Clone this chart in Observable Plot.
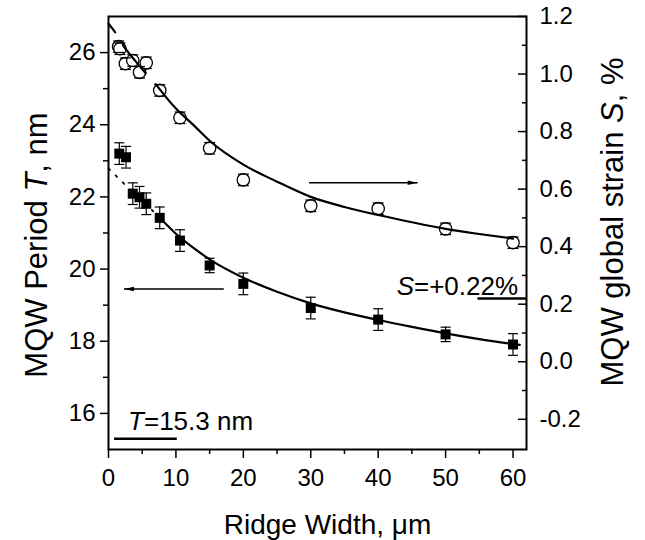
<!DOCTYPE html>
<html>
<head>
<meta charset="utf-8">
<script src="https://cdn.jsdelivr.net/npm/d3@7"></script>
<script src="https://cdn.jsdelivr.net/npm/@observablehq/plot@0.6"></script>
<style>
  html, body { margin: 0; padding: 0; background: #fff; }
  #chart { width: 645px; height: 540px; }
</style>
</head>
<body>
<div id="chart"></div>
<script>
// ---------- data ----------
// MQW period T (nm), filled squares, left axis
const ridgeWidth = [1.6, 2.6, 3.6, 4.6, 5.6, 7.6, 10.6, 15, 20, 30, 40, 50, 60];
const periodT    = [23.2, 23.1, 22.09, 21.99, 21.81, 21.42, 20.79, 20.10, 19.59, 18.92, 18.60, 18.19, 17.91];
const periodErr  = [0.3, 0.3, 0.3, 0.3, 0.3, 0.3, 0.3, 0.2, 0.3, 0.3, 0.3, 0.2, 0.3];

// MQW global strain S (%), open circles, right axis
const strainWidth = [1.5, 1.7, 2.5, 3.6, 4.6, 5.6, 7.6, 10.6, 15, 20, 30, 40, 50, 60];
const strainS     = [1.095, 1.088, 1.036, 1.047, 1.006, 1.039, 0.943, 0.848, 0.742, 0.632, 0.542, 0.532, 0.462, 0.414];
const strainErr   = [0.02, 0.02, 0.02, 0.02, 0.02, 0.02, 0.02, 0.02, 0.02, 0.02, 0.02, 0.02, 0.02, 0.02];

// fitted curves
const fitPeriodExtX = [0, 2, 4, 6, 7.6];
const fitPeriodExtT = [22.79, 22.42, 22.06, 21.72, 21.42];
const fitPeriodX = [7.6, 10, 12.5, 15, 20, 25, 30, 35, 40, 45, 50, 55, 61];
const fitPeriodT = [21.42, 20.98, 20.6, 20.27, 19.76, 19.37, 19.05, 18.8, 18.59, 18.4, 18.22, 18.06, 17.9];
const fitStrainExtX = [7, 6, 4, 2, 1, 0];
const fitStrainExtS = [0.965, 0.99, 1.045, 1.105, 1.145, 1.175];
const fitStrainX = [7, 10, 12.5, 15, 20, 25, 30, 35, 40, 45, 50, 55, 60];
const fitStrainS = [0.965, 0.88, 0.825, 0.768, 0.685, 0.626, 0.573, 0.538, 0.51, 0.485, 0.462, 0.444, 0.428];

// axes
const xDomain = [0, 62];
const tDomain = [15, 27];
const sDomain = [-0.305, 1.2];
const xTicks = [0, 10, 20, 30, 40, 50, 60];
const xMinorTicks = [5, 15, 25, 35, 45, 55];
const tTicks = [16, 18, 20, 22, 24, 26];
const tMinorTicks = [17, 19, 21, 23, 25];
const sTicks = [-0.2, 0.0, 0.2, 0.4, 0.6, 0.8, 1.0, 1.2];
const sMinorTicks = [-0.1, 0.1, 0.3, 0.5, 0.7, 0.9, 1.1];

// annotations
const arrowPeriod = [{x1: 17.1, x2: 2.3, t: 19.45}];
const arrowStrain = [{x1: 29.75, x2: 45.85, s: 0.622}];
const refPeriod = [{x1: 0.9, x2: 10.2, t: 15.3}];
const refStrain = [{x1: 54.8, x2: 62, s: 0.22}];
const labelPeriod = [{x: 2.9, t: 15.53, text: "T=15.3 nm", italic: "T"}];
const labelStrain = [{x: 60.75, s: 0.232, text: "S=+0.22%", italic: "S"}];
const xTitle = "Ridge Width, \u03bcm";
const tTitle = "MQW Period T, nm";
const sTitle = "MQW global strain S, %";

// ---------- build ----------
const sToT = d3.scaleLinear().domain(sDomain).range(tDomain);
const periodData = ridgeWidth.map((w, i) => ({w, t: periodT[i], e: periodErr[i]}));
const strainData = strainWidth.map((w, i) => ({w, t: sToT(strainS[i]), hi: sToT(strainS[i] + strainErr[i]), lo: sToT(strainS[i] - strainErr[i])}));
const fitPeriodExt = fitPeriodExtX.map((x, i) => ({x, t: fitPeriodExtT[i]}));
const fitPeriod = fitPeriodX.map((x, i) => ({x, t: fitPeriodT[i]}));
const fitStrainExt = fitStrainExtX.map((x, i) => ({x, t: sToT(fitStrainExtS[i])}));
const fitStrain = fitStrainX.map((x, i) => ({x, t: sToT(fitStrainS[i])}));

const capSymbol = {draw(ctx, size) { const r = Math.sqrt(size / Math.PI); ctx.moveTo(-r, 0); ctx.lineTo(r, 0); }};
const headSymbol = {draw(ctx, size) { const r = Math.sqrt(size / Math.PI); ctx.moveTo(r, 0); ctx.lineTo(-r, -r * 0.45); ctx.lineTo(-r, r * 0.45); ctx.closePath(); }};

const fmtS = (t) => { const v = Math.round(sToT.invert(t) * 10) / 10; return (v === 0 ? 0 : v).toFixed(1); };
const font = "'Liberation Sans', Arial, Helvetica, sans-serif";

const plot = Plot.plot({
  width: 645,
  height: 540,
  marginLeft: 108,
  marginRight: 119,
  marginTop: 16,
  marginBottom: 91,
  x: {domain: xDomain},
  y: {domain: tDomain},
  style: {fontFamily: font, fontSize: "24px", color: "#000", background: "#fff", overflow: "visible"},
  marks: [
    // axes
    Plot.axisX(xTicks, {tickSize: 9, tickPadding: 10, strokeWidth: 1.5, fontSize: 24, label: null}),
    Plot.axisX(xMinorTicks, {tickSize: 5, strokeWidth: 1.5, tickFormat: () => null, label: null}),
    Plot.axisY(tTicks, {anchor: "left", tickSize: 8, tickPadding: 5, strokeWidth: 1.5, fontSize: 24, label: null}),
    Plot.axisY(tMinorTicks, {anchor: "left", tickSize: 5, strokeWidth: 1.5, tickFormat: () => null, label: null}),
    Plot.axisY(sTicks.map(d => sToT(d)), {anchor: "right", tickSize: -9, strokeWidth: 1.5, tickFormat: () => null, label: null}),
    Plot.axisY(sMinorTicks.map(d => sToT(d)), {anchor: "right", tickSize: -5, strokeWidth: 1.5, tickFormat: () => null, label: null}),
    Plot.axisY(sTicks.map(d => sToT(d)), {anchor: "right", tickSize: 0, tickPadding: 13, fontSize: 24, tickFormat: fmtS, label: null}),

    // period fit
    Plot.line(fitPeriodExt, {x: "x", y: "t", stroke: "#000", strokeWidth: 1.8, strokeDasharray: "2,8"}),
    Plot.line(fitPeriod, {x: "x", y: "t", curve: "monotone-x", stroke: "#000", strokeWidth: 2.2}),
    // period points
    Plot.ruleX(periodData, {x: "w", y1: d => d.t - d.e, y2: d => d.t + d.e, stroke: "#000", strokeWidth: 1.2}),
    Plot.dot(periodData, {x: "w", y: d => d.t + d.e, symbol: capSymbol, r: 5, fill: "none", stroke: "#000", strokeWidth: 1.2}),
    Plot.dot(periodData, {x: "w", y: d => d.t - d.e, symbol: capSymbol, r: 5, fill: "none", stroke: "#000", strokeWidth: 1.2}),
    Plot.dot(periodData, {x: "w", y: "t", symbol: "square", r: 5.64, fill: "#000", stroke: "none"}),

    // strain points
    Plot.ruleX(strainData, {x: "w", y1: "lo", y2: "hi", stroke: "#000", strokeWidth: 1.2}),
    Plot.dot(strainData, {x: "w", y: "t", r: 6.2, fill: "#fff", stroke: "#000", strokeWidth: 1.3}),
    Plot.dot(strainData, {x: "w", y: "hi", symbol: capSymbol, r: 5.5, fill: "none", stroke: "#000", strokeWidth: 1.2}),
    Plot.dot(strainData, {x: "w", y: "lo", symbol: capSymbol, r: 5.5, fill: "none", stroke: "#000", strokeWidth: 1.2}),
    // strain fit
    Plot.line(fitStrainExt, {x: "x", y: "t", curve: "catmull-rom", stroke: "#000", strokeWidth: 2.2, strokeDasharray: "36,15", strokeDashoffset: 36}),
    Plot.line(fitStrain, {x: "x", y: "t", curve: "monotone-x", stroke: "#000", strokeWidth: 2.2}),

    // arrows
    Plot.link(arrowPeriod, {x1: "x1", x2: "x2", y1: "t", y2: "t", stroke: "#000", strokeWidth: 1.5}),
    Plot.dot(arrowPeriod, {x: "x2", y: "t", symbol: headSymbol, r: 5, rotate: 180, dx: 5, fill: "#000", stroke: "none"}),
    Plot.link(arrowStrain, {x1: "x1", x2: "x2", y1: d => sToT(d.s), y2: d => sToT(d.s), stroke: "#000", strokeWidth: 1.5}),
    Plot.dot(arrowStrain, {x: "x2", y: d => sToT(d.s), symbol: headSymbol, r: 5, dx: -5, fill: "#000", stroke: "none"}),

    // reference values
    Plot.ruleY(refPeriod, {y: "t", x1: "x1", x2: "x2", stroke: "#000", strokeWidth: 2.5}),
    Plot.text(labelPeriod, {x: "x", y: "t", text: "text", textAnchor: "start", lineAnchor: "bottom", fontSize: 26}),
    Plot.ruleY(refStrain, {y: d => sToT(d.s), x1: "x1", x2: "x2", stroke: "#000", strokeWidth: 2.5}),
    Plot.text(labelStrain, {x: "x", y: d => sToT(d.s), text: "text", textAnchor: "end", lineAnchor: "bottom", fontSize: 26}),

    // axis titles
    Plot.text([xTitle], {frameAnchor: "bottom", textAnchor: "middle", dx: 10, dy: 84, lineAnchor: "bottom", fontSize: 28}),
    Plot.text([tTitle], {frameAnchor: "left", textAnchor: "middle", rotate: -90, dx: -62, dy: 12, lineAnchor: "bottom", fontSize: 31}),
    Plot.text([sTitle], {frameAnchor: "right", textAnchor: "middle", rotate: -90, dx: 96, dy: -11, lineAnchor: "bottom", fontSize: 31}),

    Plot.frame({stroke: "#000", strokeWidth: 2})
  ]
});

// italic letters inside real text
function italicize(svg, full, letter) {
  for (const t of svg.querySelectorAll("text")) {
    if (t.textContent !== full) continue;
    const i = full.indexOf(letter);
    t.textContent = "";
    const parts = [[full.slice(0, i), false], [letter, true], [full.slice(i + letter.length), false]];
    for (const [s, it] of parts) {
      if (!s) continue;
      const sp = document.createElementNS("http://www.w3.org/2000/svg", "tspan");
      if (it) sp.setAttribute("font-style", "italic");
      sp.textContent = s;
      t.appendChild(sp);
    }
  }
}
italicize(plot, tTitle, "T");
italicize(plot, sTitle, "S");
italicize(plot, labelPeriod[0].text, labelPeriod[0].italic);
italicize(plot, labelStrain[0].text, labelStrain[0].italic);

document.getElementById("chart").appendChild(plot);
</script>
</body>
</html>
